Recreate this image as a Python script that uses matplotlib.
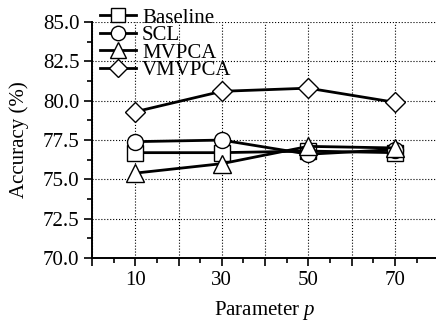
import matplotlib
matplotlib.use("Agg")
import matplotlib.pyplot as plt
from matplotlib.ticker import MultipleLocator

plt.rcParams['font.family'] = ['Liberation Serif', 'DejaVu Serif']
plt.rcParams['mathtext.fontset'] = 'custom'
plt.rcParams['mathtext.it'] = 'Liberation Serif:italic'
plt.rcParams['mathtext.rm'] = 'Liberation Serif'

params = [10, 30, 50, 70]
baseline = [76.7, 76.7, 76.8, 76.7]
scl = [77.4, 77.5, 76.6, 76.9]
mvpca = [75.4, 76.0, 77.1, 77.0]
vmvpca = [79.3, 80.6, 80.8, 79.9]
series_names = ["Baseline", "SCL", "MVPCA", "VMVPCA"]
xtick_vals = [0, 10, 20, 30, 40, 50, 60, 70, 80]
xtick_labels = ["", "10", "", "30", "", "50", "", "70", ""]
ytick_vals = [70.0, 72.5, 75.0, 77.5, 80.0, 82.5, 85.0]

fig = plt.figure(figsize=(4.36, 3.25), dpi=100)
ax = fig.add_axes([0.211, 0.206, 0.794, 0.726])

markers = ['s', 'o', '^', 'D']
sizes = [11, 11.5, 13, 10]
for vals, name, m, ms in zip([baseline, scl, mvpca, vmvpca], series_names, markers, sizes):
    ax.plot(params, vals, color='black', lw=2.0, marker=m, ms=ms,
            mfc='white', mec='black', mew=1.0, label=name)

ax.set_xlim(0, 80)
ax.set_ylim(70, 85)
ax.set_xticks(xtick_vals)
ax.set_xticklabels(xtick_labels)
ax.xaxis.set_minor_locator(MultipleLocator(5))
ax.set_yticks(ytick_vals)
ax.set_yticklabels([f"{v:.1f}" for v in ytick_vals])
ax.yaxis.set_minor_locator(MultipleLocator(1.25))
ax.tick_params(axis='both', which='major', direction='out', length=6, width=1.2, labelsize=15, pad=3)
ax.tick_params(axis='both', which='minor', direction='out', length=3.5, width=1.2)
for s in ['top', 'right']:
    ax.spines[s].set_visible(False)
for s in ['left', 'bottom']:
    ax.spines[s].set_linewidth(1.4)
ax.grid(True, which='major', linestyle=':', color='black', lw=0.8)
ax.set_axisbelow(True)

ax.set_xlabel("Parameter $p$", fontsize=15, labelpad=7)
ax.set_ylabel("Accuracy (%)", fontsize=15, labelpad=10)

leg = ax.legend(loc='upper left', bbox_to_anchor=(0.0, 1.095), frameon=False,
                fontsize=15, handlelength=1.7, handletextpad=0.3, labelspacing=-0.1,
                borderaxespad=0.0, markerscale=0.9)
leg.set_zorder(5)

fig.savefig("out.png", dpi=100)
